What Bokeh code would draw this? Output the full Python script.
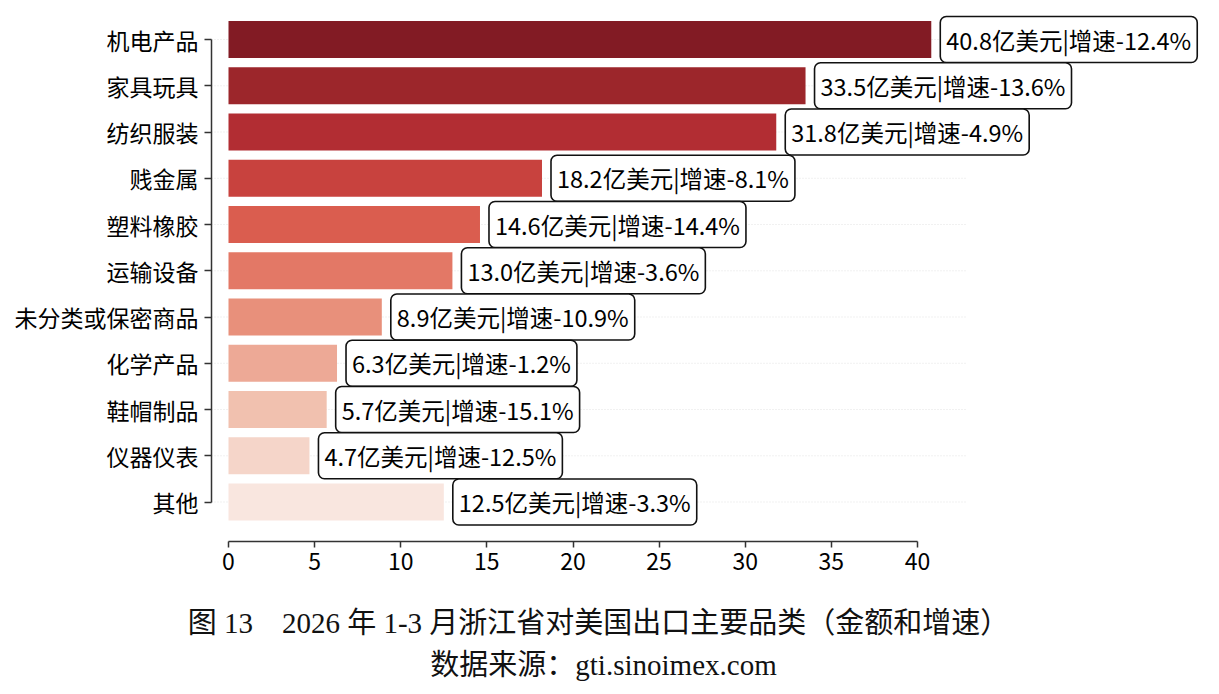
from bokeh.plotting import figure
from bokeh.models import ColumnDataSource, FixedTicker, Range1d
from bokeh.layouts import column
from bokeh.core.properties import value
from bokeh.embed import file_html
from bokeh.resources import INLINE

categories = ["机电产品", "家具玩具", "纺织服装", "贱金属", "塑料橡胶", "运输设备",
              "未分类或保密商品", "化学产品", "鞋帽制品", "仪器仪表", "其他"]
amounts = [40.8, 33.5, 31.8, 18.2, 14.6, 13.0, 8.9, 6.3, 5.7, 4.7, 12.5]
growth = [-12.4, -13.6, -4.9, -8.1, -14.4, -3.6, -10.9, -1.2, -15.1, -12.5, -3.3]
colors = ["#821b24", "#9c262b", "#b22d33", "#c8423e", "#da5d4f", "#e37866",
          "#e8907b", "#eda996", "#f1c1af", "#f5d5c9", "#f9e6df"]
x_ticks = [0, 5, 10, 15, 20, 25, 30, 35, 40]
caption_lines = ["图 13\u30002026 年 1-3 月浙江省对美国出口主要品类（金额和增速）",
                 "数据来源：gti.sinoimex.com"]

n = len(categories)
ypos = list(range(n))
labels = [f"{a:.1f}亿美元|增速{g:.1f}%" for a, g in zip(amounts, growth)]

W, H = 1219, 694
H1 = 585
frame_left, frame_right, frame_top, frame_bottom = 211, 1215, 5, 541
px_per_x = (917 - 228) / 40.0
x0 = (frame_left - 228) / px_per_x
x1 = x0 + (frame_right - frame_left) / px_per_x
px_per_y = (501.5 - 39.0) / (n - 1)
y_top = (frame_top - 39.0) / px_per_y
y_bot = (n - 1) + (frame_bottom - 501.5) / px_per_y

p = figure(width=W, height=H1, output_backend="svg", toolbar_location=None,
           x_range=Range1d(x0, x1), y_range=Range1d(y_bot, y_top),
           min_border_left=frame_left, min_border_right=W - frame_right,
           min_border_top=frame_top, min_border_bottom=H1 - frame_bottom)
p.outline_line_color = None
p.xgrid.visible = False
p.ygrid.visible = False

src = ColumnDataSource(dict(y=ypos, amt=amounts, color=colors, label=labels,
                            gx0=[x0] * n, gx1=[42.9] * n))

p.segment(x0="gx0", x1="gx1", y0="y", y1="y", source=src, line_color="#dcdcdc",
          line_width=1, line_dash="1 2", line_alpha=0.8)
p.hbar(y="y", left=0, right="amt", height=0.8, color="color", line_color=None, source=src)

p.text(x="amt", y="y", text="label", source=src, x_offset=9,
       text_font=value("Noto Sans CJK SC"), text_font_size="23.5px",
       text_align="left", text_baseline="middle", text_color="#000000",
       background_fill_color="white", border_line_color="#111111", border_line_width=1.6,
       padding=6, border_radius=6)

# axes
xa = p.xaxis[0]
xa.ticker = FixedTicker(ticks=x_ticks)
xa.bounds = (0, 40)
xa.axis_line_color = "#333333"
xa.axis_line_width = 1.5
xa.major_tick_line_color = "#333333"
xa.major_tick_line_width = 1.5
xa.major_tick_in = 0
xa.major_tick_out = 6
xa.minor_tick_line_color = None
xa.major_label_text_font = "Noto Sans CJK SC"
xa.major_label_text_font_size = "23px"
xa.major_label_text_color = "#000000"
xa.major_label_standoff = 5

ya = p.yaxis[0]
ya.ticker = FixedTicker(ticks=ypos)
ya.bounds = (0, n - 1)
ya.major_label_overrides = {i: c for i, c in enumerate(categories)}
ya.axis_line_color = "#333333"
ya.axis_line_width = 1.5
ya.major_tick_line_color = "#333333"
ya.major_tick_line_width = 1.5
ya.major_tick_in = 0
ya.major_tick_out = 7
ya.minor_tick_line_color = None
ya.major_label_text_font = "Noto Sans CJK SC"
ya.major_label_text_font_size = "23px"
ya.major_label_text_color = "#000000"
ya.major_label_standoff = 6

# caption panel (pixel coordinates)
H2 = H - H1
c = figure(width=W, height=H2, output_backend="svg", toolbar_location=None,
           x_range=Range1d(0, W), y_range=Range1d(H2, 0),
           x_axis_location=None, y_axis_location=None,
           min_border=0, min_border_left=0, min_border_right=0,
           min_border_top=0, min_border_bottom=0)
if "frame_align" in c.properties():
    c.frame_align = False
else:
    c.min_border_left = 150
    c.min_border_right = W - frame_right
    c.x_range.start = 150
    c.x_range.end = frame_right
c.grid.visible = False
c.outline_line_color = None
cap_src = ColumnDataSource(dict(x=[598, 603], y=[622 - H1, 664 - H1], t=caption_lines))
c.text(x="x", y="y", text="t", source=cap_src,
       text_font=value("Liberation Serif, Noto Sans CJK SC"), text_font_size="29px",
       text_align="center", text_baseline="middle", text_color="#111111")

layout = column(p, c, spacing=0)
open("out.html", "w").write(file_html(layout, INLINE))
